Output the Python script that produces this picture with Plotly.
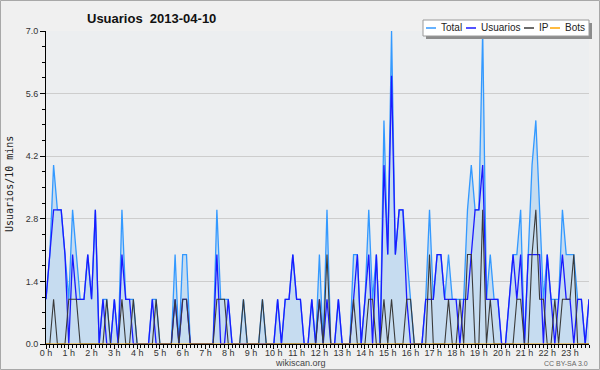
import plotly.graph_objects as go

# ---- data (10-minute slots, 2013-04-10) ----
hours = list(range(24))
hour_labels = [f"{h} h" for h in hours]
slots = list(range(144))

total = [
    1, 2, 4, 3, 3, 2, 1, 3, 2, 1, 1, 2,
    1, 3, 0, 1, 1, 0, 1, 0, 3, 1, 1, 1,
    0, 0, 0, 0, 1, 1, 0, 0, 0, 0, 2, 0,
    2, 2, 0, 0, 0, 0, 0, 0, 0, 3, 1, 1,
    1, 0, 0, 0, 1, 0, 0, 0, 0, 1, 0, 0,
    0, 1, 0, 1, 1, 2, 1, 1, 0, 0, 1, 0,
    2, 0, 3, 0, 0, 1, 0, 0, 0, 2, 2, 0,
    1, 3, 1, 2, 0, 5, 2, 7, 2, 3, 3, 2,
    1, 0, 0, 0, 1, 3, 1, 2, 2, 1, 2, 1,
    1, 1, 1, 3, 4, 3, 3, 7, 1, 2, 1, 1,
    0, 0, 1, 2, 2, 3, 0, 2, 4, 5, 3, 1,
    2, 1, 1, 1, 3, 2, 2, 2, 1, 1, 0, 1,
]
usuarios = [
    1, 2, 3, 3, 3, 2, 0, 2, 1, 1, 1, 2,
    1, 3, 0, 1, 0, 0, 1, 0, 2, 1, 1, 0,
    0, 0, 0, 0, 1, 0, 0, 0, 0, 0, 1, 0,
    1, 1, 0, 0, 0, 0, 0, 0, 0, 2, 0, 0,
    1, 0, 0, 0, 0, 0, 0, 0, 0, 0, 0, 0,
    0, 1, 0, 1, 1, 2, 1, 1, 0, 0, 1, 0,
    1, 0, 1, 0, 0, 1, 0, 0, 0, 1, 2, 0,
    1, 2, 0, 2, 0, 4, 2, 6, 2, 3, 3, 1,
    0, 0, 0, 0, 1, 1, 1, 2, 2, 1, 1, 1,
    1, 0, 1, 1, 2, 3, 3, 4, 1, 1, 1, 1,
    0, 0, 1, 2, 1, 2, 0, 2, 2, 2, 2, 0,
    2, 1, 0, 1, 2, 1, 1, 0, 1, 1, 0, 1,
]
ip = [
    0, 0, 1, 0, 0, 0, 1, 1, 1, 0, 0, 0,
    0, 0, 0, 0, 1, 0, 0, 0, 1, 0, 0, 1,
    0, 0, 0, 0, 0, 1, 0, 0, 0, 0, 1, 0,
    1, 1, 0, 0, 0, 0, 0, 0, 0, 1, 1, 1,
    0, 0, 0, 0, 1, 0, 0, 0, 0, 1, 0, 0,
    0, 0, 0, 0, 0, 0, 0, 0, 0, 0, 0, 0,
    1, 0, 2, 0, 0, 0, 0, 0, 0, 1, 0, 0,
    0, 1, 1, 0, 0, 1, 0, 1, 0, 0, 0, 1,
    1, 0, 0, 0, 0, 2, 0, 0, 0, 0, 1, 0,
    0, 1, 0, 2, 2, 0, 0, 3, 0, 1, 0, 0,
    0, 0, 0, 0, 1, 1, 0, 0, 2, 3, 1, 1,
    0, 0, 1, 0, 1, 1, 1, 2, 0, 0, 0, 0,
]
bots = [
    0, 0, 0, 0, 0, 0, 0, 0, 0, 0, 0, 0,
    0, 0, 0, 0, 0, 0, 0, 0, 0, 0, 0, 0,
    0, 0, 0, 0, 0, 0, 0, 0, 0, 0, 0, 0,
    0, 0, 0, 0, 0, 0, 0, 0, 0, 0, 0, 0,
    0, 0, 0, 0, 0, 0, 0, 0, 0, 0, 0, 0,
    0, 0, 0, 0, 0, 0, 0, 0, 0, 0, 0, 0,
    0, 0, 0, 0, 0, 0, 0, 0, 0, 0, 0, 0,
    0, 0, 0, 0, 0, 0, 0, 0, 0, 0, 0, 0,
    0, 0, 0, 0, 0, 0, 0, 0, 0, 0, 0, 0,
    0, 0, 0, 0, 0, 0, 0, 0, 0, 0, 0, 0,
    0, 0, 0, 0, 0, 0, 0, 0, 0, 0, 0, 0,
    0, 0, 0, 0, 0, 0, 0, 0, 0, 0, 0, 0,
]
y_ticks = [0.0, 1.4, 2.8, 4.2, 5.6, 7.0]
y_tick_labels = ["0.0", "1.4", "2.8", "4.2", "5.6", "7.0"]
series_names = ["Total", "Usuarios", "IP", "Bots"]
series_colors = ["#3399ff", "#1a1aff", "#3a3a3a", "#ffa500"]

# ---- layout geometry (pixels) ----
W, H = 600, 370
L, R, T, B = 46, 11, 31, 26
PW, PH = W - L - R, H - T - B


def px(x):
    return (x - L) / PW


def py(y):
    return (H - B - y) / PH


fig = go.Figure()
fig.add_trace(go.Scatter(x=slots, y=total, mode="lines", name=series_names[0],
                         line=dict(color=series_colors[0], width=1.3),
                         fill="tozeroy", fillcolor="#c6dcf0", showlegend=False))
fig.add_trace(go.Scatter(x=slots, y=usuarios, mode="lines", name=series_names[1],
                         line=dict(color=series_colors[1], width=1.3), showlegend=False))
fig.add_trace(go.Scatter(x=slots, y=ip, mode="lines", name=series_names[2],
                         line=dict(color=series_colors[2], width=1.1), showlegend=False))
fig.add_trace(go.Scatter(x=slots, y=bots, mode="lines", name=series_names[3],
                         line=dict(color=series_colors[3], width=1), showlegend=False))

shapes = []
annotations = []

# outer frame
shapes.append(dict(type="rect", xref="paper", yref="paper",
                   x0=px(0.5), x1=px(599.5), y0=py(369.5), y1=py(0.5),
                   line=dict(color="#a8a8a8", width=1), layer="below"))

# legend (drawn by hand to match the compact legend box)
shapes.append(dict(type="rect", xref="paper", yref="paper",
                   x0=px(426), x1=px(592), y0=py(39), y1=py(23),
                   fillcolor="#8c8c8c", line=dict(width=0)))
shapes.append(dict(type="rect", xref="paper", yref="paper",
                   x0=px(423), x1=px(589), y0=py(36), y1=py(20),
                   fillcolor="white", line=dict(color="#9a9a9a", width=1)))
leg_line_x = [426, 466, 524, 550]
leg_text_x = [439, 479, 537, 563]
for name, col, lx, tx in zip(series_names, series_colors, leg_line_x, leg_text_x):
    shapes.append(dict(type="line", xref="paper", yref="paper",
                       x0=px(lx), x1=px(lx + 10), y0=py(28), y1=py(28),
                       line=dict(color=col, width=1.5)))
    annotations.append(dict(text=name, xref="paper", yref="paper",
                            x=px(tx), y=py(28), xanchor="left", yanchor="middle",
                            showarrow=False,
                            font=dict(family="Liberation Sans, Arial, sans-serif",
                                      size=10, color="#222")))

# title
annotations.append(dict(text="<b>Usuarios\u00a0\u00a02013-04-10</b>", xref="paper", yref="paper",
                        x=px(151), y=py(18), xanchor="center", yanchor="middle",
                        showarrow=False,
                        font=dict(family="Liberation Sans, Arial, sans-serif", size=13, color="#111")))
# y axis title
annotations.append(dict(text="Usuarios/10 mins", xref="paper", yref="paper",
                        x=px(9), y=py(184), xanchor="center", yanchor="middle",
                        textangle=-90, showarrow=False,
                        font=dict(family="DejaVu Sans Mono, monospace", size=10, color="#222")))
# footer
annotations.append(dict(text="wikiscan.org", xref="paper", yref="paper",
                        x=px(300), y=py(363), xanchor="center", yanchor="middle",
                        showarrow=False,
                        font=dict(family="Liberation Sans, sans-serif", size=9, color="#444")))
annotations.append(dict(text="CC BY-SA 3.0", xref="paper", yref="paper",
                        x=px(566), y=py(363), xanchor="center", yanchor="middle",
                        showarrow=False,
                        font=dict(family="Liberation Sans, sans-serif", size=7, color="#666")))

fig.update_layout(
    width=W, height=H,
    margin=dict(l=L, r=R, t=T, b=B, pad=0),
    paper_bgcolor="#f0f0f0",
    plot_bgcolor="#eceef0",
    showlegend=False,
    shapes=shapes,
    annotations=annotations,
    font=dict(family="Liberation Sans, sans-serif", size=9, color="#222"),
)

fig.update_xaxes(
    range=[0, 143], tickmode="array",
    tickvals=[h * 6 for h in hours], ticktext=hour_labels,
    showline=True, linecolor="black", linewidth=1,
    ticks="outside", ticklen=4, tickcolor="black", tickwidth=1,
    minor=dict(dtick=1, tick0=0, ticks="outside", ticklen=3, tickcolor="black", showgrid=False),
    showgrid=False, zeroline=False, layer="above traces",
    tickfont=dict(size=9, color="#333"), ticklabelstandoff=-4,
)
fig.update_yaxes(
    range=[0, 7], tickmode="array", tickvals=y_ticks, ticktext=y_tick_labels,
    showline=True, linecolor="black", linewidth=1,
    ticks="outside", ticklen=5, tickcolor="black",
    minor=dict(dtick=0.35, tick0=0, ticks="outside", ticklen=3, tickcolor="black", showgrid=False),
    showgrid=True, gridcolor="#cdcdcd", gridwidth=1, zeroline=False,
    layer="above traces", tickfont=dict(size=9, color="#333"),
)

fig.write_html("out.html",
               config={"displayModeBar": False, "staticPlot": True},
               post_script="document.body.style.margin='0';document.body.style.padding='0';")
